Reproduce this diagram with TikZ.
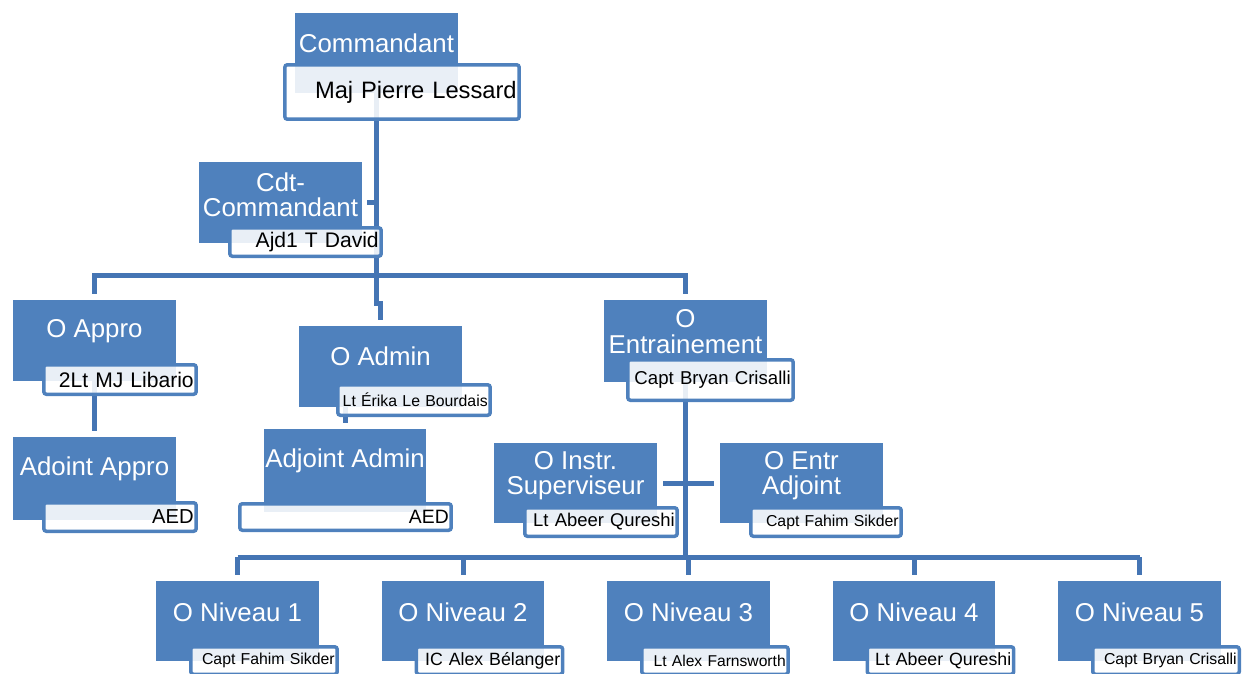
\documentclass[tikz,border=0pt]{standalone}
\usepackage{fontspec}
\setmainfont{Liberation Sans}
\usetikzlibrary{calc,positioning}
\pgfdeclarelayer{back}
\pgfsetlayers{back,main}
\definecolor{boxblue}{HTML}{4F81BD}
\definecolor{lineblue}{HTML}{4575B4}
\tikzset{
  box/.style={fill=boxblue, minimum width=3.26cm, minimum height=1.62cm, inner sep=0pt},
  title/.style={text=white, align=center, inner sep=0pt, font=\fontsize{14.7}{14.5}\selectfont},
  lbl/.style={draw=boxblue, line width=0.07cm, rounded corners=1.5pt, fill=white, fill opacity=0.88,
    text opacity=1, inner xsep=0.05cm, inner ysep=0pt, align=right, font=\fontsize{#1}{#1}\selectfont},
  conn/.style={draw=lineblue, line width=0.1cm},
  gap/.style={shorten >=0.12cm}
}
\begin{document}
\begin{tikzpicture}[x=0.02cm,y=-0.02cm]
  \useasboundingbox (0,0) rectangle (1244,673);

  \node [box, minimum height=1.6cm] at (376.5,53) (cmd) {};
  \node [title] at($(cmd.north)+(0,31)$) (cmd_t) {Commandant};
  \node [lbl=13.5, text width=4.59cm, minimum height=1.09cm] at (402,92) (cmd_l) {Maj Pierre Lessard};

  \node [box] at (280.5,202.5) (cdt) {};
  \node [title] at($(cdt.north)+(0,33)$) (cdt_t) {Cdt-\\Commandant};
  \node [lbl=12, text width=2.93cm, minimum height=0.57cm] at (305.5,242) (cdt_l) {Ajd1 T David};

  \node [box] at (94.5,340.5) (appro) {};
  \node [title] at($(appro.north)+(0,32)$) (appro_t) {O Appro};
  \node [lbl=12, text width=2.95cm, minimum height=0.59cm] at (120,379.5) (appro_l) {2Lt MJ Libario};

  \node [box, minimum height=1.66cm] at (94.5,478.5) (adappro) {};
  \node [title] at($(adappro.north)+(0,32)$) (adappro_t) {Adoint Appro};
  \node [lbl=11.5, text width=2.95cm, minimum height=0.57cm] at (120,517) (adappro_l) {AED};

  \node [box] at (380.5,366.5) (admin) {};
  \node [title] at($(admin.north)+(0,31)$) (admin_t) {O Admin};
  \node [lbl=9, text width=2.95cm, minimum height=0.61cm] at (414,400) (admin_l) {Lt Érika Le Bourdais};

  \node [box, minimum height=1.66cm] at (345,470.5) (adadmin) {};
  \node [title] at($(adadmin.north)+(0,32)$) (adadmin_t) {Adjoint Admin};
  \node [lbl=11, text width=4.13cm, minimum height=0.53cm] at (345.5,517) (adadmin_l) {AED};

  \node [box, minimum height=1.64cm] at (685.5,341) (entr) {};
  \node [title] at($(entr.north)+(0,32)$) (entr_t) {O\\Entrainement};
  \node [lbl=10.6, text width=3.21cm, minimum height=0.81cm] at (710.5,380) (entr_l) {Capt Bryan Crisalli};

  \node [box, minimum height=1.6cm] at (575.5,483) (instr) {};
  \node [title] at($(instr.north)+(0,33)$) (instr_t) {O Instr.\\Superviseur};
  \node [lbl=10.5, text width=2.95cm, minimum height=0.57cm] at (601,522) (instr_l) {Lt Abeer Qureshi};

  \node [box, minimum height=1.6cm] at (801.5,483) (entradj) {};
  \node [title] at($(entradj.north)+(0,33)$) (entradj_t) {O Entr\\Adjoint};
  \node [lbl=9, text width=2.91cm, minimum height=0.57cm] at (826,522) (entradj_l) {Capt Fahim Sikder};

  \foreach \n/\who/\sz in {1/Capt Fahim Sikder/9, 2/IC Alex Bélanger/10.1, 3/Lt Alex Farnsworth/8.9,
      4/Lt Abeer Qureshi/10.1, 5/Capt Bryan Crisalli/9}
  {
    \node [box, minimum height=1.6cm] at($(237.5,621)+({225.5*(\n-1)},0)$) (niv_\n) {};
    \node [title] at($(niv_\n.north)+(0,32)$) (niv_t_\n) {O Niveau \n};
    \node [lbl=\sz, text width=2.83cm, minimum height=0.55cm] at($(niv_\n.center)+(26.5,39.5)$) (niv_l_\n) {\who};
  }

  \coordinate (bar1) at (0,275);
  \coordinate (jog) at (0,303);
  \coordinate (bar2) at (0,557);

  \begin{pgfonlayer}{back}
    \draw [conn, gap] (cmd.south) -- (cmd.south |- jog) -| (admin.north);
    \draw [conn, shorten <=0.1cm] (cdt.east) -- (cdt.east -| cmd.south);
    \draw [conn, gap, shorten <=0.12cm] (appro.north) -- (appro.north |- bar1) -- (entr.north |- bar1) -- (entr.north);
    \draw [conn, gap] (appro.south) -- (adappro.north);
    \draw [conn, gap] (adadmin.north |- admin.south) -- (adadmin.north);
    \draw [conn] (entr.south) -- (entr.south |- bar2);
    \draw [conn, gap, shorten <=0.12cm] (instr.east) -- (entradj.west);
    \draw [conn] (niv_1.north |- bar2) -- (niv_5.north |- bar2);
    \foreach \n in {1,...,5}
      \draw [conn, gap] (niv_\n.north |- bar2) -- (niv_\n.north);
  \end{pgfonlayer}

\end{tikzpicture}
\end{document}
